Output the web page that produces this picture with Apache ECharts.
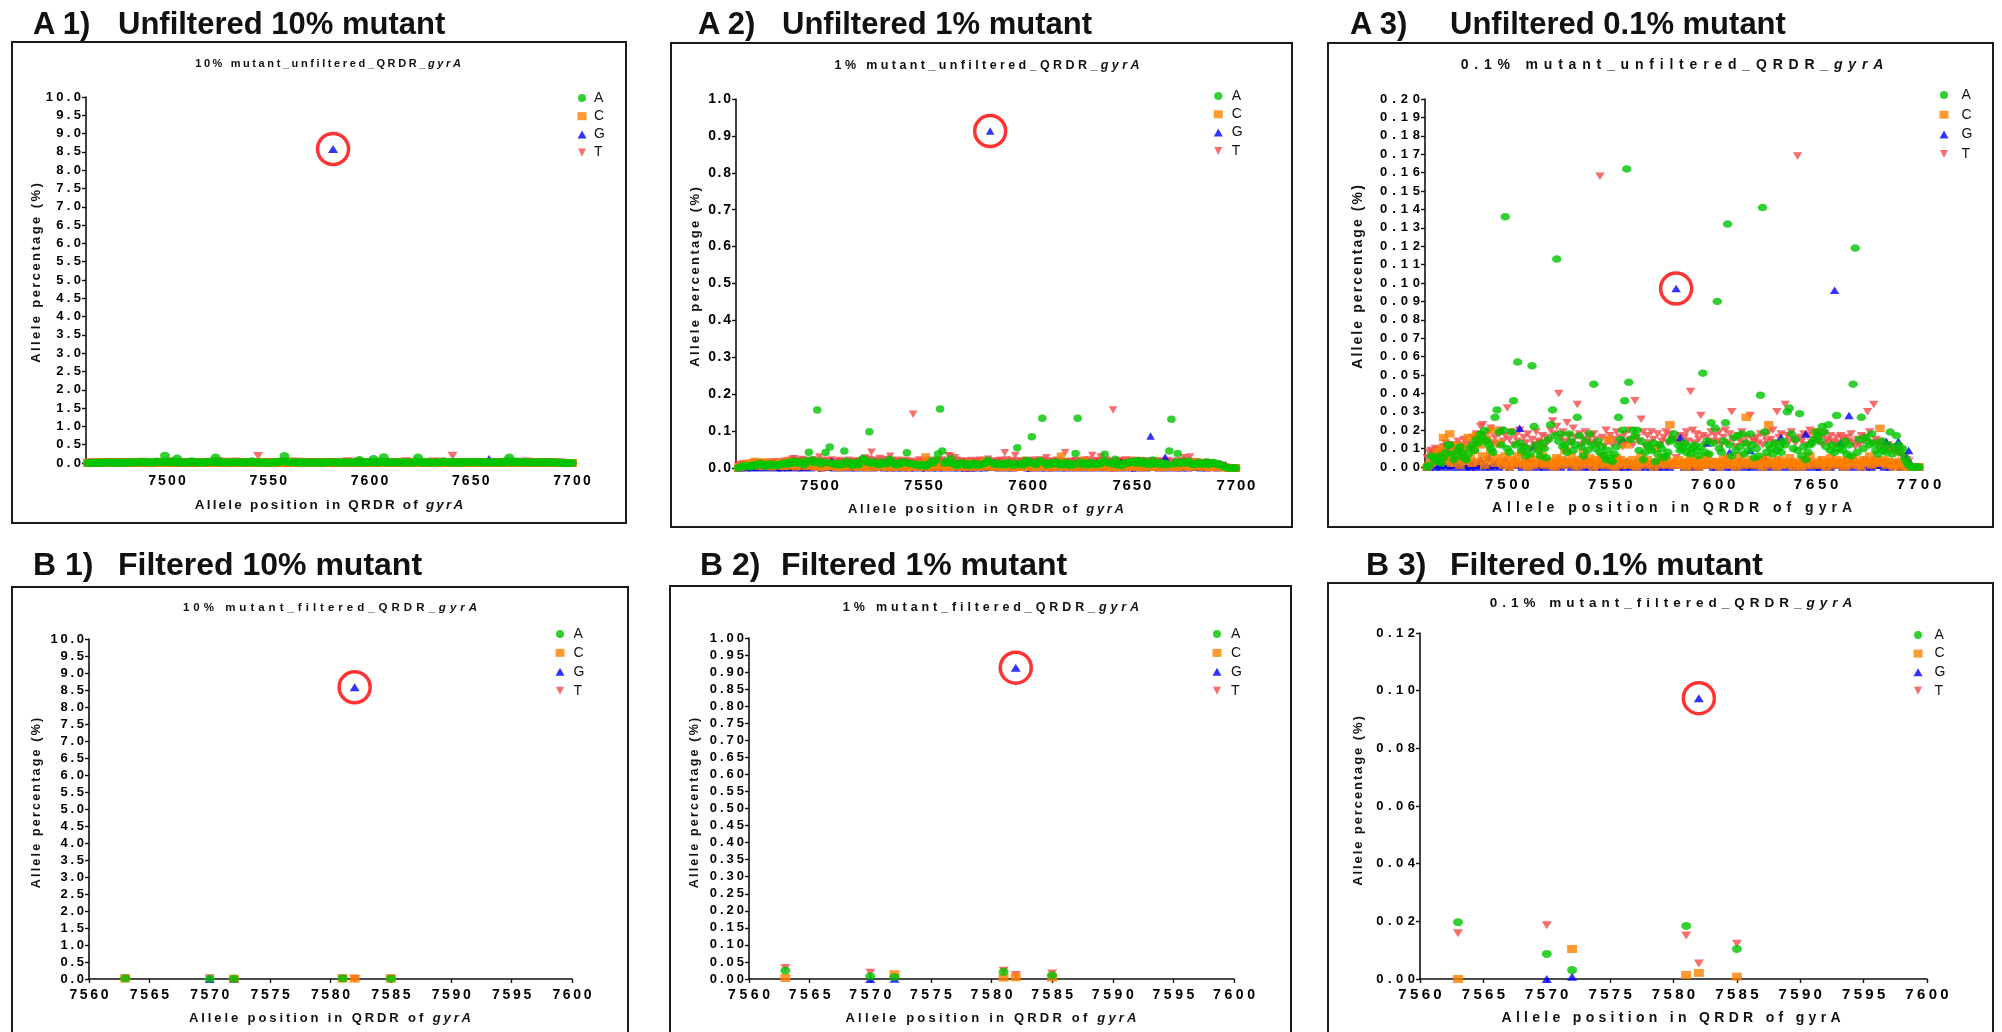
<!DOCTYPE html>
<html>
<head>
<meta charset="utf-8">
<title>QRDR gyrA allele percentages</title>
<script src="https://cdn.jsdelivr.net/npm/echarts@6.0.0/dist/echarts.min.js"></script>
<style>
  html, body { margin: 0; padding: 0; background: #fff; overflow: hidden; }
  #page { position: relative; width: 2002px; height: 1032px; overflow: hidden; font-family: 'Liberation Sans', Arial, sans-serif; color: #111; }
  #chart { position: absolute; left: 0; top: 0; width: 2002px; height: 1032px; }
  .frame { position: absolute; border: 2px solid #1a1a1a; box-sizing: border-box; }
  .txt { position: absolute; white-space: nowrap; line-height: 1; font-weight: bold; }
</style>
</head>
<body>
<div id="page">
  <div id="frames"></div>
  <div id="chart"></div>
  <div id="labels"></div>
</div>
<script>
// ---- data ----------------------------------------------------------------
// unfiltered runs: one value per position 7461..7700, in 0.001 % units (null = reference base)
const unfilteredPositions = [];
for (let p = 7461; p <= 7700; p++) unfilteredPositions.push(p);

// 10 % mutant, unfiltered
const u10A = [
  0,3,8,10,6,9,5,12,9,14,13,18,9,7,11,15,10,14,8,12,
  11,16,14,19,15,21,18,25,20,16,22,15,12,28,40,21,30,19,200,24,
  15,22,45,18,120,16,13,18,11,16,12,50,24,14,18,10,20,15,11,26,
  30,28,20,150,16,22,18,14,12,21,16,15,19,30,20,14,11,18,15,23,
  18,50,16,18,14,12,11,9,14,10,7,12,16,24,19,28,45,190,55,18,
  24,20,20,15,18,9,12,19,14,10,16,10,12,18,15,10,11,14,16,19,
  20,null,19,14,10,16,12,18,11,15,19,14,10,16,80,12,18,11,26,16,
  24,110,16,12,20,26,160,19,11,18,14,20,16,22,12,15,11,20,18,10,
  16,11,45,150,21,12,19,15,11,20,14,16,12,18,15,24,40,21,16,19,
  15,32,11,18,8,14,19,16,21,24,20,18,26,22,16,25,14,19,12,30,
  16,19,14,20,12,18,11,55,150,14,21,40,16,22,20,18,25,19,14,12,
  18,20,15,14,19,22,12,16,20,18,14,15,10,6,3,0,0,0,0,0
];
const u10C = [
  0,3,6,9,12,15,10,18,22,13,7,20,6,14,19,8,4,12,16,7,
  18,9,6,14,22,7,13,10,4,17,8,13,21,6,9,15,7,3,10,6,
  2,8,4,7,10,6,13,3,7,2,9,6,3,8,14,4,10,3,7,4,
  5,3,2,9,4,8,3,13,6,4,10,3,7,2,8,4,12,3,6,9,
  4,2,8,3,7,10,4,3,16,6,24,2,9,4,7,3,6,13,3,4,
  7,3,10,4,9,6,3,8,4,null,2,10,6,3,8,4,7,3,22,6,
  10,10,8,3,10,6,2,4,9,3,6,4,2,8,3,4,10,3,6,4,
  3,6,2,4,8,3,9,4,3,6,2,4,10,3,6,30,4,3,8,4,
  6,3,8,2,4,9,24,3,6,4,2,8,3,4,7,3,9,4,2,6,
  3,4,2,8,3,6,10,3,4,20,6,3,8,4,2,6,9,3,4,8,
  4,3,6,2,8,4,3,9,6,4,3,2,8,4,6,10,3,4,8,6,
  20,4,8,3,6,4,3,2,4,6,3,4,2,3,2,0,0,0,0,0
];
const u10G = [
  0,2,3,4,2,5,3,2,4,8,3,2,13,5,3,2,4,9,3,2,
  4,2,3,5,2,3,7,4,2,3,8,2,4,3,5,2,3,4,7,3,
  2,4,3,5,3,22,2,4,3,7,2,3,12,4,2,3,5,2,4,3,
  3,2,5,3,4,2,3,7,10,4,2,3,5,2,4,3,2,8,3,2,
  4,3,2,5,3,2,4,7,3,2,5,3,3,2,4,16,2,5,3,2,
  3,4,null,2,3,5,2,4,3,0,4,0,2,5,3,2,4,3,2,4,
  null,8580,3,18,null,2,4,3,5,2,4,3,2,4,3,5,14,3,4,2,
  3,2,4,3,5,2,3,9,2,4,3,2,5,3,4,2,3,10,2,4,
  3,5,2,4,7,3,2,4,3,5,2,7,18,3,2,4,3,5,2,4,
  3,2,4,3,20,2,5,3,4,2,3,7,2,4,3,5,2,3,110,4,
  3,14,2,4,3,32,2,5,3,4,2,3,7,2,4,3,2,5,3,4,
  3,4,2,15,3,2,5,3,4,15,2,4,3,8,10,3,0,0,0,0
];
const u10T = [
  8,12,14,10,15,9,13,12,16,19,13,10,18,12,15,20,13,16,21,15,
  19,14,22,16,25,20,30,32,24,21,26,29,19,22,18,25,28,20,24,38,
  21,26,18,24,20,28,16,22,19,25,15,21,18,26,20,19,24,16,22,20,
  27,33,25,30,52,22,26,20,32,24,19,29,22,40,25,18,21,26,20,24,
  19,25,21,18,190,22,16,27,20,24,18,21,26,19,22,16,25,20,27,21,
  18,40,20,20,34,26,16,24,19,20,21,null,25,18,20,22,26,19,25,21,
  20,10,19,24,20,22,26,20,50,27,19,25,21,40,24,18,22,20,26,19,
  24,20,26,18,22,27,19,25,36,21,16,24,20,26,19,22,18,48,21,20,
  22,19,25,18,24,20,26,21,27,19,40,22,25,18,38,24,20,26,21,19,
  200,22,20,25,18,24,27,19,21,26,20,22,18,25,21,19,24,20,18,22,
  19,24,21,18,22,20,25,19,16,21,18,24,20,22,36,26,19,40,21,18,
  20,16,19,15,18,14,16,13,15,12,14,10,9,6,4,0,0,0,0,0
];

// 1 % mutant, unfiltered
const u1A = [
  0,2,5,7,4,6,3,8,6,10,9,13,6,5,8,11,7,10,6,9,
  8,12,10,14,11,16,13,19,15,12,17,11,9,20,43,16,22,14,157,18,
  11,16,42,14,57,12,10,13,8,12,9,46,18,10,13,7,15,11,8,20,
  26,22,15,98,12,17,13,10,9,16,12,11,14,24,15,10,8,13,11,17,
  14,41,12,13,10,9,8,6,10,7,5,9,12,18,14,22,38,160,46,13,
  18,15,25,11,13,6,9,14,10,8,12,6,9,13,11,7,8,10,12,14,
  21,null,14,10,11,12,9,13,8,11,14,10,7,12,55,9,13,8,20,12,
  18,85,12,9,15,20,135,14,8,13,10,15,12,16,9,11,8,15,13,7,
  12,8,39,135,16,9,14,11,8,15,10,12,9,13,11,18,37,16,12,14,
  11,24,8,13,6,10,14,12,16,18,15,13,20,17,12,19,10,14,9,22,
  12,14,10,15,9,13,8,46,132,10,16,39,12,17,15,13,19,14,10,9,
  13,15,11,10,14,17,9,12,15,13,10,11,7,4,2,0,0,0,0,0
];
const u1C = [
  0,2,4,6,9,12,7,14,18,10,5,16,4,11,15,6,3,9,13,5,
  14,7,4,11,18,5,10,8,3,13,6,10,17,4,7,12,5,2,8,4,
  1,6,3,5,8,4,10,2,5,1,7,4,2,6,11,3,8,2,5,3,
  4,2,1,7,3,6,2,10,4,3,8,2,5,1,6,3,9,2,4,7,
  3,1,6,2,5,8,3,2,12,4,30,1,7,3,5,2,4,10,2,3,
  5,2,3,3,7,4,2,6,3,null,1,14,4,2,6,3,5,2,18,4,
  4,5,6,2,4,4,1,3,7,2,4,3,1,6,2,3,8,2,4,3,
  2,4,1,3,6,2,7,3,2,4,1,3,8,2,4,32,3,2,6,3,
  4,2,6,1,3,7,20,2,4,3,1,6,2,3,5,2,7,3,1,4,
  2,3,1,6,2,4,8,2,3,16,4,2,6,3,1,4,7,2,3,6,
  3,2,4,1,6,3,2,7,4,3,2,1,6,3,4,8,2,3,6,4,
  17,3,6,2,4,3,2,1,3,4,2,3,1,2,1,0,0,0,0,0
];
const u1G = [
  0,1,2,3,1,4,2,1,3,6,2,1,10,4,2,1,3,7,2,1,
  3,1,2,4,1,2,5,3,1,2,6,1,3,2,4,1,2,3,5,2,
  1,3,2,4,2,18,1,3,2,5,1,2,9,3,1,2,4,1,3,2,
  2,1,4,2,3,1,2,5,8,3,1,2,4,1,3,2,1,6,2,1,
  3,2,1,4,2,1,3,5,2,1,4,2,2,1,3,12,1,4,2,1,
  2,3,null,1,2,4,1,3,2,0,3,1,1,4,2,1,3,2,1,3,
  null,913,2,14,null,1,3,2,4,1,3,2,1,3,2,4,11,2,3,1,
  2,1,3,2,4,1,2,7,1,3,2,1,4,2,3,1,2,8,1,3,
  2,4,1,3,6,2,1,3,2,4,1,5,14,2,1,3,2,4,1,3,
  2,1,3,2,16,1,4,2,3,1,2,5,1,3,2,4,1,2,87,3,
  2,11,1,3,2,30,1,4,2,3,1,2,5,1,3,2,1,4,2,3,
  2,3,1,12,2,1,4,2,3,12,1,3,2,6,8,2,0,0,0,0
];
const u1T = [
  6,9,11,8,12,7,10,9,13,15,10,8,14,9,12,16,10,13,17,12,
  15,11,18,13,20,16,24,25,19,17,21,23,15,18,14,20,22,16,19,30,
  17,21,14,19,16,22,13,18,15,20,12,17,14,21,16,15,19,13,18,16,
  22,27,20,24,43,18,21,16,26,19,15,23,18,32,20,14,17,21,16,19,
  15,20,17,14,146,18,13,22,16,19,14,17,21,15,18,13,20,16,22,17,
  14,33,32,16,28,21,13,19,15,18,17,null,20,14,16,18,21,15,20,17,
  24,12,15,19,16,18,21,16,41,22,15,20,17,34,19,14,18,16,21,15,
  19,16,21,14,18,22,15,20,28,17,13,19,16,21,15,18,14,41,17,16,
  18,15,20,14,19,16,21,17,22,15,34,18,20,14,30,19,16,21,17,15,
  157,18,16,20,14,19,22,15,17,21,16,18,14,20,17,15,19,16,14,18,
  15,19,17,14,18,16,20,15,13,17,14,19,16,18,28,21,15,30,17,14,
  16,13,15,12,14,11,13,10,12,9,11,8,7,5,3,0,0,0,0,0
];

// 0.1 % mutant, unfiltered
const u01A = [
  0,1,6,5,4,3,6,2,5,8,12,12,7,4,6,9,11,8,5,4,
  7,10,12,9,15,13,18,16,20,14,12,10,8,27,31,19,12,20,136,10,
  8,19,36,12,57,13,9,11,6,10,7,55,22,12,9,6,13,10,5,15,
  23,31,17,113,14,18,11,12,8,18,14,9,12,27,17,11,6,14,9,18,
  12,45,10,14,8,11,6,4,9,5,3,7,11,27,15,20,36,162,46,15,
  20,17,20,9,14,4,8,12,11,9,13,3,7,12,10,5,6,8,14,15,
  18,null,12,9,10,13,8,11,7,10,12,9,6,11,51,8,14,7,24,13,
  21,90,10,8,14,24,132,12,6,16,9,17,11,18,7,13,9,18,12,5,
  10,6,39,141,19,8,12,10,7,13,9,11,8,14,12,30,32,18,10,15,
  9,29,6,11,4,8,12,13,15,19,17,14,22,19,11,23,9,12,8,28,
  10,12,9,14,7,12,6,45,119,8,15,27,10,16,14,12,18,13,9,7,
  11,14,9,8,12,19,7,10,17,12,8,10,5,3,1,0,0,0,0,0
];
const u01C = [
  0,1,2,3,5,8,4,10,16,6,3,18,2,9,12,4,1,7,11,3,
  16,5,2,9,17,3,12,6,1,15,4,8,20,2,5,13,3,1,6,2,
  0,4,1,3,6,2,8,1,3,0,5,2,1,4,10,2,6,1,3,2,
  3,1,0,5,2,4,1,9,3,2,6,1,3,0,4,2,8,1,3,5,
  2,0,4,1,3,6,2,1,15,3,1,0,5,2,4,1,3,12,1,2,
  4,1,0,2,6,3,1,4,2,null,0,10,3,1,5,2,4,1,23,3,
  1,2,4,1,1,3,0,2,5,1,3,2,0,4,1,2,6,1,3,2,
  1,3,0,2,4,1,5,2,1,3,0,2,6,1,3,27,2,1,4,2,
  3,1,4,0,2,5,23,1,3,2,0,4,1,2,3,1,5,2,0,3,
  1,2,0,4,1,3,6,1,2,19,3,1,4,2,0,3,5,1,2,4,
  2,1,3,0,4,2,1,5,3,2,1,0,4,2,3,6,1,2,4,3,
  21,2,4,1,3,2,1,0,2,3,1,2,0,1,0,0,0,0,0,0
];
const u01G = [
  0,0,1,2,0,3,1,0,2,5,1,0,12,3,1,0,2,6,1,0,
  2,0,1,3,0,1,4,2,0,1,5,0,2,1,3,0,1,2,4,1,
  0,2,1,3,1,21,0,2,1,4,0,1,11,2,0,1,3,0,2,1,
  1,0,3,1,2,0,1,4,10,2,0,1,3,0,2,1,0,5,1,0,
  2,1,0,3,1,0,2,4,1,0,3,1,1,0,2,15,0,3,1,0,
  1,2,null,0,1,3,0,2,1,0,2,1,0,3,1,0,2,1,0,2,
  null,97,1,16,null,0,2,1,3,0,2,1,0,2,1,3,13,1,2,0,
  1,0,2,1,3,0,1,8,0,2,1,0,3,1,2,0,1,9,0,2,
  1,3,0,2,5,1,0,2,1,3,0,4,16,1,0,2,1,3,0,2,
  1,0,2,1,18,0,3,1,2,0,1,4,0,2,1,3,0,1,96,2,
  1,13,0,2,1,28,0,3,1,2,0,1,4,0,2,1,0,3,1,2,
  1,2,0,14,1,0,3,1,2,14,0,2,1,5,9,2,0,0,0,0
];
const u01T = [
  5,8,9,7,10,6,9,8,11,13,9,7,12,8,10,14,9,12,15,11,
  13,10,16,12,18,14,22,23,17,15,19,21,13,16,12,18,20,14,17,32,
  15,19,12,17,14,20,11,16,13,18,10,15,12,19,14,13,17,11,16,14,
  20,25,18,22,40,16,19,14,24,17,13,21,16,34,18,12,15,19,14,17,
  13,18,15,12,158,16,11,20,14,17,12,15,19,13,16,11,18,14,20,15,
  12,36,16,14,26,19,11,17,13,19,15,null,18,12,14,16,19,13,18,15,
  15,5,13,17,12,16,19,14,41,20,13,18,15,28,17,12,16,14,19,13,
  17,14,19,12,16,20,13,18,30,15,11,17,14,19,13,16,12,28,15,14,
  16,13,18,12,17,14,19,15,20,13,30,16,18,12,34,17,14,19,15,13,
  169,16,14,18,12,17,20,13,15,19,14,16,12,18,15,13,17,14,12,16,
  13,17,15,12,16,14,18,13,11,15,12,17,14,16,30,19,13,34,15,12,
  14,11,13,10,12,9,11,8,10,7,9,6,5,4,3,0,0,0,0,0
];

// filtered runs: values in %
const filteredPositions = [7563, 7570, 7572, 7581, 7582, 7585];
const f10A = [0.02, 0.01, 0.01, 0.02, null, 0.01];
const f10C = [0.01, null, 0.01, 0.01, 0.01, 0.01];
const f10G = [null, 0.0, 0.0, null, 8.58, null];
const f10T = [0.02, 0.02, null, 0.02, 0.01, 0.02];

const f1A = [0.025, 0.008, 0.006, 0.021, null, 0.011];
const f1C = [0.003, null, 0.014, 0.004, 0.005, 0.004];
const f1G = [null, 0.0, 0.001, null, 0.913, null];
const f1T = [0.032, 0.018, null, 0.024, 0.012, 0.016];

const f01A = [0.0197, 0.0087, 0.0031, 0.0184, null, 0.0104];
const f01C = [0.0, null, 0.0104, 0.0014, 0.0021, 0.0008];
const f01G = [null, 0.0, 0.0008, null, 0.0974, null];
const f01T = [0.0159, 0.0186, null, 0.0151, 0.0054, 0.0122];

const mutantPosition = 7582;   // circled G allele
const unfilteredTicks = [7500, 7550, 7600, 7650, 7700];

// ---- layout --------------------------------------------------------------
const FONT = "'Liberation Sans', Arial, sans-serif";
const alleles = ['A', 'C', 'G', 'T'];
const drawOrder = ['T', 'G', 'C', 'A'];
const alleleStyle = {
    A: { symbol: 'path://M0,5A5,5,0,1,1,10,5A5,5,0,1,1,0,5Z', color: '#00c400' },
    C: { symbol: 'rect', color: '#ff8000' },
    G: { symbol: 'triangle', color: '#0000ff' },
    T: { symbol: 'path://M0,0L10,0L5,10Z', color: '#f44a4a' },
};

const panels = [
    {
        tag: 'A 1)', tagX: 33, heading: 'Unfiltered 10% mutant', headX: 118, headBase: 34, headSize: 31,
        frame: [12, 42, 626, 523],
        title: { html: '10% mutant_unfiltered_QRDR_<i>gyrA</i>', x: 328, y: 63, size: 11, ls: 2.6 },
        xName: { html: 'Allele position in QRDR of <i>gyrA</i>', x: 329, y: 505, size: 13.5, ls: 2.2 },
        yName: { x: 35, y: 273, size: 13, ls: 2.4 },
        grid: { left: 86, top: 97, width: 486, height: 366 },
        unfiltered: true, yMax: 10, yStep: 0.5, yDec: 1,
        yFont: 13, yPad: 3.3, xFont: 14, xPad: 2.2, xMargin: 11,
        legend: { left: 577.5, top: 91, gap: 4.2, pad: 2.5 },
        symbolSize: [10, 8],
        positions: unfilteredPositions, scale: 1000,
        values: { A: u10A, C: u10C, G: u10G, T: u10T },
    },
    {
        tag: 'A 2)', tagX: 698, heading: 'Unfiltered 1% mutant', headX: 782, headBase: 34, headSize: 31,
        frame: [671, 43, 1292, 527],
        title: { html: '1% mutant_unfiltered_QRDR_<i>gyrA</i>', x: 987, y: 65, size: 12.5, ls: 3.4 },
        xName: { html: 'Allele position in QRDR of <i>gyrA</i>', x: 986, y: 508, size: 13, ls: 2.7 },
        yName: { x: 694, y: 277, size: 13, ls: 2.4 },
        grid: { left: 736, top: 99, width: 500, height: 369 },
        unfiltered: true, yMax: 1, yStep: 0.1, yDec: 1,
        yFont: 14, yPad: 1.7, xFont: 15, xPad: 1.8, xMargin: 10,
        legend: { left: 1213.75, top: 89, gap: 4.3, pad: 4 },
        symbolSize: [8.5, 7.5],
        positions: unfilteredPositions, scale: 1000,
        values: { A: u1A, C: u1C, G: u1G, T: u1T },
    },
    {
        tag: 'A 3)', tagX: 1350, heading: 'Unfiltered 0.1% mutant', headX: 1450, headBase: 34, headSize: 31,
        frame: [1328, 43, 1993, 527],
        title: { html: '0.1% mutant_unfiltered_QRDR_<i>gyrA</i>', x: 1672, y: 64, size: 14, ls: 5.8 },
        xName: { html: 'Allele position in QRDR of gyrA', x: 1672, y: 507, size: 14, ls: 5 },
        yName: { x: 1357, y: 277, size: 14, ls: 2.1 },
        grid: { left: 1425, top: 99, width: 494, height: 368 },
        unfiltered: true, yMax: 0.2, yStep: 0.01, yDec: 2,
        yFont: 13, yPad: 4.9, xFont: 15, xPad: 3.7, xMargin: 10.5,
        legend: { left: 1939.5, top: 88, gap: 5.7, pad: 8 },
        symbolSize: [9.5, 7.5],
        positions: unfilteredPositions, scale: 1000,
        values: { A: u01A, C: u01C, G: u01G, T: u01T },
    },
    {
        tag: 'B 1)', tagX: 33, heading: 'Filtered 10% mutant', headX: 118, headBase: 575, headSize: 32,
        frame: [12, 587, 628, 1040],
        title: { html: '10% mutant_filtered_QRDR_<i>gyrA</i>', x: 330, y: 608, size: 11.5, ls: 4 },
        xName: { html: 'Allele position in QRDR of <i>gyrA</i>', x: 330, y: 1017, size: 13, ls: 2.9 },
        yName: { x: 35.5, y: 803, size: 12.5, ls: 2.2 },
        grid: { left: 89, top: 639, width: 483, height: 340 },
        unfiltered: false, yMax: 10, yStep: 0.5, yDec: 1,
        yFont: 13, yPad: 2.75, xFont: 14, xPad: 2.7, xMargin: 9.5,
        legend: { left: 555.5, top: 627, gap: 4.9, pad: 4 },
        symbolSize: [10, 8],
        positions: filteredPositions, scale: 1,
        values: { A: f10A, C: f10C, G: f10G, T: f10T },
    },
    {
        tag: 'B 2)', tagX: 700, heading: 'Filtered 1% mutant', headX: 781, headBase: 575, headSize: 32,
        frame: [670, 586, 1291, 1040],
        title: { html: '1% mutant_filtered_QRDR_<i>gyrA</i>', x: 991, y: 607, size: 12.5, ls: 3.9 },
        xName: { html: 'Allele position in QRDR of <i>gyrA</i>', x: 991, y: 1017, size: 13, ls: 3.2 },
        yName: { x: 694, y: 803, size: 12.5, ls: 2.2 },
        grid: { left: 749, top: 638, width: 485, height: 341 },
        unfiltered: false, yMax: 1, yStep: 0.05, yDec: 2,
        yFont: 13, yPad: 3, xFont: 14, xPad: 3.6, xMargin: 9,
        legend: { left: 1212.5, top: 627, gap: 4.9, pad: 4.5 },
        symbolSize: [10, 8],
        positions: filteredPositions, scale: 1,
        values: { A: f1A, C: f1C, G: f1G, T: f1T },
    },
    {
        tag: 'B 3)', tagX: 1366, heading: 'Filtered 0.1% mutant', headX: 1450, headBase: 575, headSize: 32,
        frame: [1328, 583, 1993, 1040],
        title: { html: '0.1% mutant_filtered_QRDR_<i>gyrA</i>', x: 1671, y: 603, size: 13.5, ls: 5 },
        xName: { html: 'Allele position in QRDR of gyrA', x: 1671, y: 1017, size: 14, ls: 4.3 },
        yName: { x: 1357, y: 801, size: 13, ls: 1.9 },
        grid: { left: 1420, top: 633, width: 507, height: 346 },
        unfiltered: false, yMax: 0.12, yStep: 0.02, yDec: 2,
        yFont: 13, yPad: 4.5, xFont: 15, xPad: 3.3, xMargin: 8.5,
        legend: { left: 1913.5, top: 628, gap: 4.6, pad: 7 },
        symbolSize: [10, 8],
        positions: filteredPositions, scale: 1,
        values: { A: f01A, C: f01C, G: f01G, T: f01T },
    },
];

// ---- helpers -------------------------------------------------------------
function toPoints(positions, values, scale) {
    if (values.length !== positions.length) console.error('length mismatch', values.length);
    const pts = [];
    values.forEach((v, i) => {
        if (v !== null) pts.push([positions[i], v / scale]);
    });
    return pts;
}

// letter-spaced tick labels: one rich token per character
function spaced(text) {
    return String(text).split('').map(ch => '{s|' + ch + '}').join('');
}

const labelsEl = document.getElementById('labels');
const framesEl = document.getElementById('frames');

function addText(html, style) {
    const d = document.createElement('div');
    d.className = 'txt';
    d.innerHTML = html;
    Object.assign(d.style, style);
    labelsEl.appendChild(d);
}

function centered(t, rotate) {
    return {
        left: t.x + 'px', top: t.y + 'px', fontSize: t.size + 'px',
        letterSpacing: t.ls + 'px', paddingLeft: t.ls + 'px',
        transform: 'translate(-50%, -50%)' + (rotate ? ' rotate(-90deg)' : ''),
    };
}

// ---- frames and texts ----------------------------------------------------
panels.forEach(p => {
    const [l, t, r, b] = p.frame;
    const f = document.createElement('div');
    f.className = 'frame';
    Object.assign(f.style, { left: (l - 1) + 'px', top: (t - 1) + 'px', width: (r - l + 2) + 'px', height: (b - t + 2) + 'px' });
    framesEl.appendChild(f);

    const headTop = (p.headBase - 0.8465 * p.headSize) + 'px';
    addText(p.tag, { left: p.tagX + 'px', top: headTop, fontSize: p.headSize + 'px' });
    addText(p.heading, { left: p.headX + 'px', top: headTop, fontSize: p.headSize + 'px' });
    addText(p.title.html, centered(p.title));
    addText(p.xName.html, centered(p.xName));
    addText('Allele percentage (%)', centered(p.yName, true));
});

// ---- chart ---------------------------------------------------------------
const axisLine = { show: true, onZero: false, lineStyle: { color: '#111', width: 1.6 } };
const tickStyle = { color: '#111', width: 1.4 };

const option = {
    animation: false,
    grid: [], xAxis: [], yAxis: [], legend: [], series: [],
};

panels.forEach((p, i) => {
    option.grid.push(Object.assign({ outerBoundsMode: 'none', containLabel: false }, p.grid));

    const xLabelRich = { s: { fontFamily: FONT, fontWeight: 'bold', fontSize: p.xFont, color: '#000', padding: [0, p.xPad / 2, 0, p.xPad / 2] } };
    const yLabelRich = { s: { fontFamily: FONT, fontWeight: 'bold', fontSize: p.yFont, color: '#000', padding: [0, 0, 0, p.yPad] } };

    const xAxis = {
        gridIndex: i, type: 'value',
        axisLine: axisLine,
        axisTick: { show: true, length: 4, lineStyle: tickStyle },
        axisLabel: { margin: p.xMargin, fontFamily: FONT, fontWeight: 'bold', fontSize: p.xFont, formatter: v => spaced(v), rich: xLabelRich },
        splitLine: { show: false },
    };
    if (p.unfiltered) {
        xAxis.min = 7460;
        xAxis.max = 7700;
        xAxis.axisTick.customValues = unfilteredTicks;
        xAxis.axisLabel.customValues = unfilteredTicks;
    } else {
        xAxis.min = 7560;
        xAxis.max = 7600;
        xAxis.interval = 5;
    }
    option.xAxis.push(xAxis);

    option.yAxis.push({
        gridIndex: i, type: 'value', min: 0, max: p.yMax, interval: p.yStep,
        axisLine: axisLine,
        axisTick: { show: true, length: 4, lineStyle: tickStyle },
        axisLabel: { margin: 5, fontFamily: FONT, fontWeight: 'bold', fontSize: p.yFont, formatter: v => spaced(v.toFixed(p.yDec)), rich: yLabelRich },
        splitLine: { show: false },
    });

    option.legend.push({
        orient: 'vertical', left: p.legend.left, top: p.legend.top, padding: 0,
        itemWidth: 9, itemHeight: 8, itemGap: p.legend.gap,
        data: alleles,
        textStyle: { fontFamily: FONT, fontSize: 14, lineHeight: 14, color: '#111', padding: [0, 0, 0, p.legend.pad] },
        selectedMode: false,
    });

    drawOrder.forEach(a => {
        option.series.push({
            type: 'scatter', name: a, xAxisIndex: i, yAxisIndex: i,
            symbol: alleleStyle[a].symbol, symbolSize: p.symbolSize,
            itemStyle: { color: alleleStyle[a].color },
            clip: false, silent: true,
            data: toPoints(p.positions, p.values[a], p.scale),
        });
    });

    // red ring around the mutant G allele
    const mi = p.positions.indexOf(mutantPosition);
    option.series.push({
        type: 'scatter', name: 'mutant', xAxisIndex: i, yAxisIndex: i,
        symbol: 'circle', symbolSize: 31, clip: false, silent: true, z: 5,
        itemStyle: { color: 'rgba(0,0,0,0)', borderColor: '#ff0000', borderWidth: 3.5 },
        data: [[mutantPosition, p.values.G[mi] / p.scale]],
    });
});

const myChart = echarts.init(document.getElementById('chart'));
myChart.setOption(option);
</script>
</body>
</html>
